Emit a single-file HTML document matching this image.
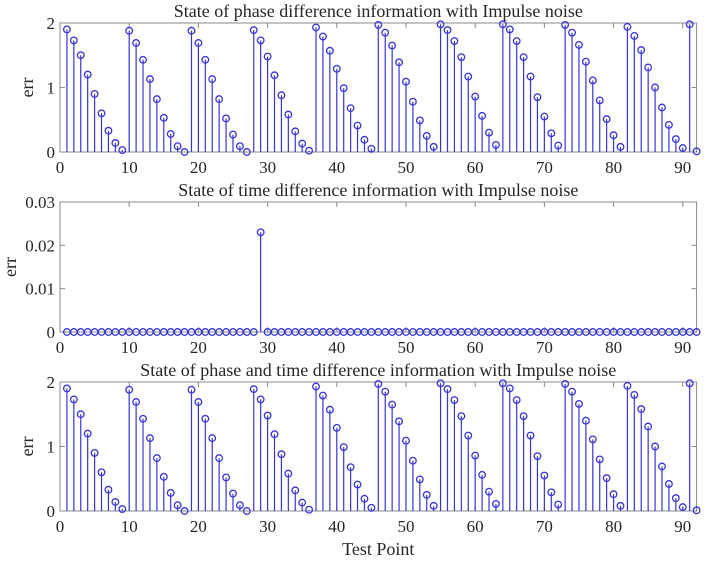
<!DOCTYPE html>
<html><head><meta charset="utf-8"><style>
html,body{margin:0;padding:0;background:#fff;}
svg text{font-family:"Liberation Serif",serif;fill:#262626;}
</style></head><body>
<svg id="fig" width="712" height="561" viewBox="0 0 712 561" xmlns="http://www.w3.org/2000/svg"></svg>
<script>
const phaseErr=[1.9,1.73,1.5,1.2,0.9,0.6,0.33,0.14,0.03,
1.88,1.69,1.43,1.13,0.82,0.53,0.28,0.09,0.0,
1.88,1.69,1.43,1.13,0.82,0.52,0.27,0.09,0.0,
1.89,1.73,1.48,1.19,0.88,0.58,0.32,0.13,0.02,
1.93,1.79,1.57,1.29,0.99,0.68,0.41,0.19,0.05,
1.97,1.85,1.65,1.39,1.09,0.78,0.49,0.25,0.08,
1.98,1.89,1.72,1.47,1.17,0.86,0.56,0.3,0.11,
1.98,1.9,1.72,1.47,1.17,0.85,0.55,0.29,0.1,
1.97,1.85,1.66,1.4,1.11,0.8,0.51,0.26,0.08,
1.94,1.8,1.58,1.31,1.0,0.69,0.42,0.2,0.06,
1.98,0.01];
const timeSpikeIndex=29;
const timeSpikeValue=0.023;
const combinedErr=phaseErr.slice();
const xTicks=[0,10,20,30,40,50,60,70,80,90];
const yTicksPhase=[0,1,2];
const yTicksTime=[0,0.01,0.02,0.03];
const titles=["State of phase difference information with Impulse noise","State of time difference information with Impulse noise","State of phase and time difference information with Impulse noise"];

const svg=document.getElementById('fig');
const NS='http://www.w3.org/2000/svg';
function mk(tag,attrs,parent){const e=document.createElementNS(NS,tag);for(const k in attrs)e.setAttribute(k,attrs[k]);(parent||svg).appendChild(e);return e;}
const X0=60,X1=696.6,XMAX=92;
function xs(v){return X0+(X1-X0)*v/XMAX;}
const timeErr=[];for(let i=1;i<=92;i++)timeErr.push(i===timeSpikeIndex?timeSpikeValue:0);

function panel(idx,top,bottom,ymax,yticks,vals,ylabs){
  const g=mk('g',{});
  
  
  const ys=v=>bottom-(bottom-top)*v/ymax;
  const t=mk('text',{x:(X0+X1)/2,y:top-6,'text-anchor':'middle','font-size':18},g);
  t.textContent=titles[idx];
  
  
  const box=mk('rect',{x:X0,y:top,width:X1-X0,height:bottom-top,fill:'none',stroke:'#8a8a8a','stroke-width':1},g);
  
  
  xTicks.forEach(v=>{
    const x=xs(v);
    mk('line',{x1:x,x2:x,y1:bottom,y2:bottom-5,stroke:'#8a8a8a'},g);
    mk('line',{x1:x,x2:x,y1:top,y2:top+5,stroke:'#8a8a8a'},g);
    const l=mk('text',{x:x,y:bottom+21,'text-anchor':'middle','font-size':17},g);
    l.textContent=v;
    
    
  });
  yticks.forEach((v,i)=>{
    const y=ys(v);
    mk('line',{x1:X0,x2:X0+5,y1:y,y2:y,stroke:'#8a8a8a'},g);
    mk('line',{x1:X1,x2:X1-5,y1:y,y2:y,stroke:'#8a8a8a'},g);
    const l=mk('text',{x:X0-5,y:y+6,'text-anchor':'end','font-size':17},g);
    l.textContent=ylabs[i];
    
    
  });
  const yl=mk('text',{x:0,y:0,'text-anchor':'middle','font-size':18,transform:`translate(${idx===1?16:33},${(top+bottom)/2}) rotate(-90)`},g);
  yl.textContent='err';
  
  
  vals.forEach((v,i)=>{
    const x=xs(i+1),y=ys(v);
    const s=mk('line',{x1:x,x2:x,y1:bottom,y2:y,stroke:'#3535dd','stroke-width':1.2},g);
    
    
    const c=mk('circle',{cx:x,cy:y,r:3.3,fill:'none',stroke:'#3535dd','stroke-width':1.3},g);
    
    
  });
}
panel(0,23,152,2,yTicksPhase,phaseErr,['0','1','2']);
panel(1,202,332,0.03,yTicksTime,timeErr,['0','0.01','0.02','0.03']);
panel(2,382,511,2,yTicksPhase,combinedErr,['0','1','2']);
const xl=mk('text',{x:(X0+X1)/2,y:555,'text-anchor':'middle','font-size':18});
xl.textContent='Test Point';


</script>
</body></html>
